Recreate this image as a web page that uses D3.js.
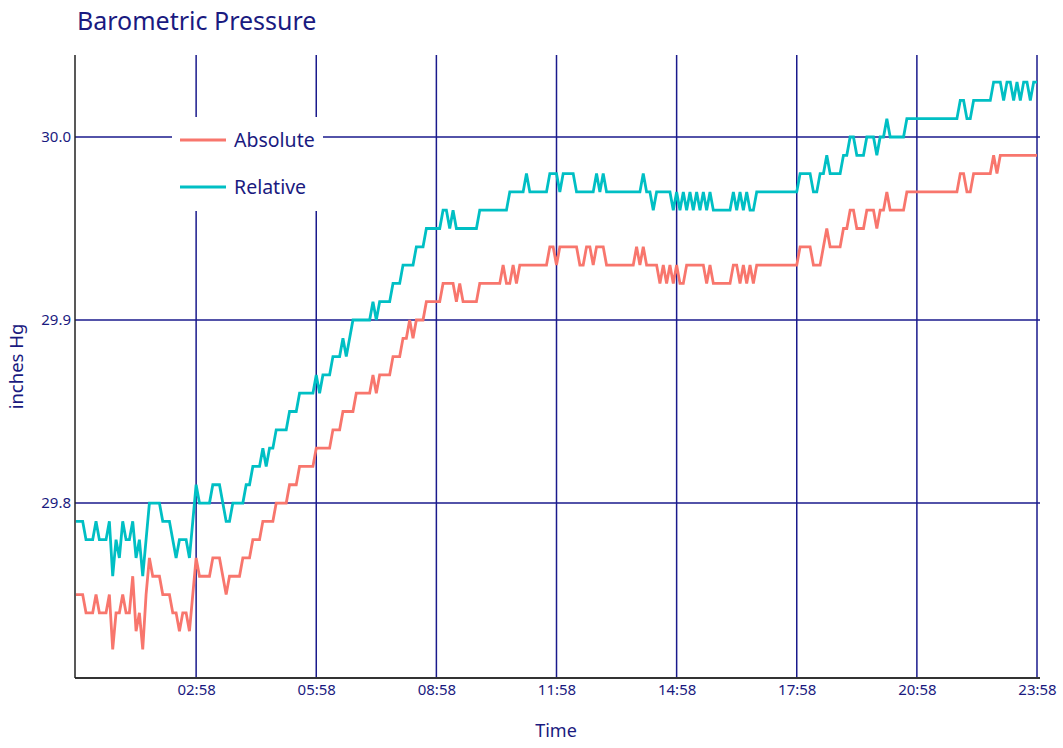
<!DOCTYPE html>
<html>
<head>
<meta charset="utf-8">
<script src="https://cdn.jsdelivr.net/npm/d3@7"></script>
<style>
  body { margin: 0; background: #fff; }
  text { font-family: "Noto Sans", sans-serif; fill: #1a1a80; }
</style>
</head>
<body>
<div id="chart"></div>
<script>
// readings every 5 minutes, 23:58 -> 23:58 next day
const absolute = [
  29.75, 29.75, 29.75, 29.74, 29.74, 29.74, 29.75, 29.74, 29.74, 29.74, 29.75, 29.72,
  29.74, 29.74, 29.75, 29.74, 29.74, 29.76, 29.73, 29.74, 29.72, 29.75, 29.77, 29.76,
  29.76, 29.76, 29.75, 29.75, 29.75, 29.74, 29.74, 29.73, 29.74, 29.74, 29.73, 29.75,
  29.77, 29.76, 29.76, 29.76, 29.76, 29.77, 29.77, 29.77, 29.76, 29.75, 29.76, 29.76,
  29.76, 29.76, 29.77, 29.77, 29.77, 29.78, 29.78, 29.78, 29.79, 29.79, 29.79, 29.79,
  29.80, 29.80, 29.80, 29.80, 29.81, 29.81, 29.81, 29.82, 29.82, 29.82, 29.82, 29.82,
  29.83, 29.83, 29.83, 29.83, 29.83, 29.84, 29.84, 29.84, 29.85, 29.85, 29.85, 29.85,
  29.86, 29.86, 29.86, 29.86, 29.86, 29.87, 29.86, 29.87, 29.87, 29.87, 29.87, 29.88,
  29.88, 29.88, 29.89, 29.89, 29.90, 29.89, 29.90, 29.90, 29.90, 29.91, 29.91, 29.91,
  29.91, 29.91, 29.92, 29.92, 29.92, 29.92, 29.91, 29.92, 29.91, 29.91, 29.91, 29.91,
  29.91, 29.92, 29.92, 29.92, 29.92, 29.92, 29.92, 29.92, 29.93, 29.92, 29.92, 29.93,
  29.92, 29.93, 29.93, 29.93, 29.93, 29.93, 29.93, 29.93, 29.93, 29.93, 29.94, 29.94,
  29.93, 29.94, 29.94, 29.94, 29.94, 29.94, 29.94, 29.93, 29.93, 29.94, 29.94, 29.93,
  29.94, 29.94, 29.94, 29.93, 29.93, 29.93, 29.93, 29.93, 29.93, 29.93, 29.93, 29.93,
  29.94, 29.93, 29.94, 29.93, 29.93, 29.93, 29.93, 29.92, 29.93, 29.92, 29.93, 29.92,
  29.93, 29.92, 29.92, 29.93, 29.93, 29.93, 29.93, 29.93, 29.93, 29.92, 29.93, 29.92,
  29.92, 29.92, 29.92, 29.92, 29.92, 29.93, 29.93, 29.92, 29.93, 29.92, 29.93, 29.92,
  29.93, 29.93, 29.93, 29.93, 29.93, 29.93, 29.93, 29.93, 29.93, 29.93, 29.93, 29.93,
  29.93, 29.94, 29.94, 29.94, 29.94, 29.93, 29.93, 29.93, 29.94, 29.95, 29.94, 29.94,
  29.94, 29.94, 29.95, 29.95, 29.96, 29.96, 29.95, 29.95, 29.95, 29.96, 29.96, 29.96,
  29.95, 29.96, 29.96, 29.97, 29.96, 29.96, 29.96, 29.96, 29.96, 29.97, 29.97, 29.97,
  29.97, 29.97, 29.97, 29.97, 29.97, 29.97, 29.97, 29.97, 29.97, 29.97, 29.97, 29.97,
  29.97, 29.98, 29.98, 29.97, 29.97, 29.98, 29.98, 29.98, 29.98, 29.98, 29.98, 29.99,
  29.98, 29.99, 29.99, 29.99, 29.99, 29.99, 29.99, 29.99, 29.99, 29.99, 29.99, 29.99,
  29.99
];

const relative = [
  29.79, 29.79, 29.79, 29.78, 29.78, 29.78, 29.79, 29.78, 29.78, 29.78, 29.79, 29.76,
  29.78, 29.77, 29.79, 29.78, 29.78, 29.79, 29.77, 29.78, 29.76, 29.78, 29.80, 29.80,
  29.80, 29.80, 29.79, 29.79, 29.79, 29.78, 29.77, 29.78, 29.78, 29.78, 29.77, 29.79,
  29.81, 29.80, 29.80, 29.80, 29.80, 29.81, 29.81, 29.81, 29.80, 29.79, 29.79, 29.80,
  29.80, 29.80, 29.80, 29.81, 29.81, 29.82, 29.82, 29.82, 29.83, 29.82, 29.83, 29.83,
  29.84, 29.84, 29.84, 29.84, 29.85, 29.85, 29.85, 29.86, 29.86, 29.86, 29.86, 29.86,
  29.87, 29.86, 29.87, 29.87, 29.87, 29.88, 29.88, 29.88, 29.89, 29.88, 29.89, 29.90,
  29.90, 29.90, 29.90, 29.90, 29.90, 29.91, 29.90, 29.91, 29.91, 29.91, 29.91, 29.92,
  29.92, 29.92, 29.93, 29.93, 29.93, 29.93, 29.94, 29.94, 29.94, 29.95, 29.95, 29.95,
  29.95, 29.95, 29.96, 29.96, 29.95, 29.96, 29.95, 29.95, 29.95, 29.95, 29.95, 29.95,
  29.95, 29.96, 29.96, 29.96, 29.96, 29.96, 29.96, 29.96, 29.96, 29.96, 29.97, 29.97,
  29.97, 29.97, 29.97, 29.98, 29.97, 29.97, 29.97, 29.97, 29.97, 29.97, 29.98, 29.98,
  29.98, 29.97, 29.98, 29.98, 29.98, 29.98, 29.97, 29.97, 29.97, 29.97, 29.97, 29.97,
  29.98, 29.97, 29.98, 29.97, 29.97, 29.97, 29.97, 29.97, 29.97, 29.97, 29.97, 29.97,
  29.97, 29.97, 29.98, 29.97, 29.97, 29.96, 29.97, 29.97, 29.97, 29.97, 29.97, 29.96,
  29.97, 29.96, 29.97, 29.96, 29.97, 29.96, 29.97, 29.96, 29.97, 29.96, 29.97, 29.96,
  29.96, 29.96, 29.96, 29.96, 29.96, 29.97, 29.96, 29.97, 29.96, 29.97, 29.96, 29.96,
  29.97, 29.97, 29.97, 29.97, 29.97, 29.97, 29.97, 29.97, 29.97, 29.97, 29.97, 29.97,
  29.97, 29.98, 29.98, 29.98, 29.98, 29.97, 29.97, 29.98, 29.98, 29.99, 29.98, 29.98,
  29.98, 29.98, 29.99, 29.99, 30.00, 30.00, 29.99, 29.99, 29.99, 30.00, 30.00, 30.00,
  29.99, 30.00, 30.00, 30.01, 30.00, 30.00, 30.00, 30.00, 30.00, 30.01, 30.01, 30.01,
  30.01, 30.01, 30.01, 30.01, 30.01, 30.01, 30.01, 30.01, 30.01, 30.01, 30.01, 30.01,
  30.01, 30.02, 30.02, 30.01, 30.01, 30.02, 30.02, 30.02, 30.02, 30.02, 30.02, 30.03,
  30.03, 30.03, 30.02, 30.03, 30.03, 30.02, 30.03, 30.02, 30.03, 30.03, 30.02, 30.03,
  30.03
];

const seriesNames = ["Absolute", "Relative"];
const seriesColors = ["#f8766d", "#00bfc4"];
const yTicks = [29.8, 29.9, 30.0];
const xTickLabels = ["02:58", "05:58", "08:58", "11:58", "14:58", "17:58", "20:58", "23:58"];

const width = 1063;
const height = 748;
const margin = { top: 55, right: 26, bottom: 70, left: 75 };

const parseTime = d3.timeParse("%Y-%m-%d %H:%M");
const t0 = parseTime("2023-06-01 23:58");
const t1 = parseTime("2023-06-02 23:58");
const timeAt = (i) => d3.timeMinute.offset(t0, i * 5);

const svg = d3
  .select("#chart")
  .append("svg")
  .attr("width", width)
  .attr("height", height);

const x = d3
  .scaleTime()
  .domain([t0, t1])
  .range([margin.left + 1, width - margin.right]);

const y = d3
  .scaleLinear()
  .domain([29.7044, 30.0448])
  .range([height - margin.bottom, margin.top]);

//grid
const tickDates = xTickLabels.map((l) => parseTime("2023-06-02 " + l));

svg
  .append("g")
  .selectAll("line")
  .data(tickDates)
  .join("line")
  .attr("x1", (d) => x(d))
  .attr("x2", (d) => x(d))
  .attr("y1", margin.top)
  .attr("y2", height - margin.bottom)
  .attr("stroke", "#1a1a8c")
  .attr("stroke-width", 1.5);

svg
  .append("g")
  .selectAll("line")
  .data(yTicks)
  .join("line")
  .attr("x1", margin.left)
  .attr("x2", width - margin.right + 3)
  .attr("y1", (d) => y(d))
  .attr("y2", (d) => y(d))
  .attr("stroke", "#1a1a8c")
  .attr("stroke-width", 1.5);

//axes
const xAxis = svg
  .append("g")
  .attr("transform", `translate(0, ${height - margin.bottom})`)
  .call(
    d3.axisBottom(x).tickValues(tickDates).tickSize(0).tickPadding(6)
      .tickFormat(d3.timeFormat("%H:%M"))
  );
xAxis.select(".domain").attr("stroke", "#333").attr("stroke-width", 2)
  .attr("d", `M${margin.left},0H${width - margin.right + 3}`);
xAxis.selectAll("text").style("font-size", "15px").style("font-family", "Noto Sans");

const yAxis = svg
  .append("g")
  .attr("transform", `translate(${margin.left}, 0)`)
  .call(d3.axisLeft(y).tickValues(yTicks).tickSize(0).tickPadding(4).tickFormat(d3.format(".1f")));
yAxis.select(".domain").attr("stroke", "#222").attr("stroke-width", 1.5)
  .attr("d", `M0,${margin.top}V${height - margin.bottom}`);
yAxis.selectAll("text").style("font-size", "15px").style("font-family", "Noto Sans");

//lines
const line = d3
  .line()
  .x((d, i) => x(timeAt(i)))
  .y((d) => y(d));

[absolute, relative].forEach((series, k) => {
  svg
    .append("path")
    .datum(series)
    .attr("fill", "none")
    .attr("stroke", seriesColors[k])
    .attr("stroke-width", 2.8)
    .attr("d", line);
});

//legend
const legend = svg.append("g").attr("transform", "translate(172, 117)");
legend.append("rect").attr("width", 151).attr("height", 94).attr("fill", "#fff");
seriesNames.forEach((name, k) => {
  const row = legend.append("g").attr("transform", `translate(0, ${23 + k * 47})`);
  row.append("line").attr("x1", 8).attr("x2", 54)
    .attr("stroke", seriesColors[k]).attr("stroke-width", 3);
  row.append("text").attr("x", 62).attr("y", 7).style("font-size", "19.5px").text(name);
});

//titles
svg.append("text").attr("x", 77).attr("y", 30).style("font-size", "25px").text("Barometric Pressure");

svg
  .append("text")
  .attr("text-anchor", "middle")
  .attr("x", (margin.left + width - margin.right) / 2)
  .attr("y", 737)
  .style("font-size", "18px")
  .text("Time");

svg
  .append("text")
  .attr("text-anchor", "middle")
  .attr("transform", `translate(23, ${(margin.top + height - margin.bottom) / 2}) rotate(-90)`)
  .style("font-size", "18.5px")
  .text("inches Hg");
</script>
</body>
</html>
